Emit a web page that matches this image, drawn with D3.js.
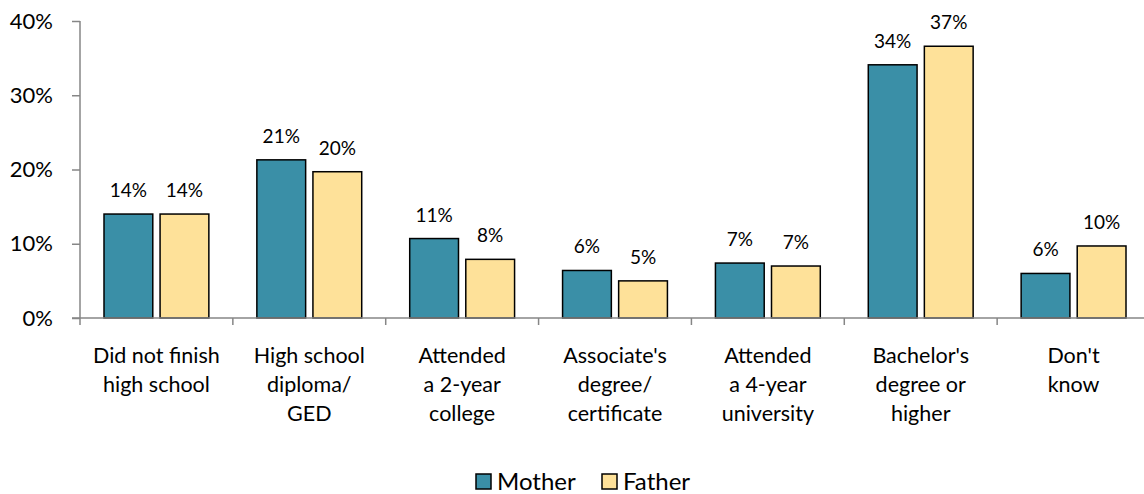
<!DOCTYPE html>
<html>
<head>
<meta charset="utf-8">
<script src="https://cdn.jsdelivr.net/npm/d3@7"></script>
<style>
  body { margin: 0; background: #fff; }
  text { font-family: Lato, "Open Sans", sans-serif; fill: #000; }
</style>
</head>
<body>
<div id="chart"></div>
<script>
// chart data
var categories = [
  ["Did not finish", "high school"],
  ["High school", "diploma/", "GED"],
  ["Attended", "a 2-year", "college"],
  ["Associate's", "degree/", "certificate"],
  ["Attended", "a 4-year", "university"],
  ["Bachelor's", "degree or", "higher"],
  ["Don't", "know"]
];
var seriesNames = ["Mother", "Father"];
var mother = [14.0, 21.3, 10.7, 6.4, 7.4, 34.1, 6.0];
var father = [14.0, 19.7, 7.9, 5.0, 7.0, 36.6, 9.7];
var yTicks = [0, 10, 20, 30, 40];
var colors = ["#3a8fa7", "#fee199"];

var width = 1144, height = 494;
var margin = { top: 21, left: 80, bottom: 176, right: -6 };

var svg = d3.select("#chart").append("svg")
    .attr("width", width)
    .attr("height", height);

var x0 = d3.scaleBand()
    .domain(d3.range(categories.length))
    .range([margin.left, width - margin.right])
    .paddingInner(0)
    .paddingOuter(0);

var x1 = d3.scaleBand()
    .domain(seriesNames)
    .range([24, x0.bandwidth() - 24])
    .paddingInner(0.13);

var y = d3.scaleLinear()
    .domain([0, 40])
    .range([height - margin.bottom, margin.top]);

// y axis
var yAxis = svg.append("g")
    .attr("transform", "translate(" + margin.left + ",0)")
    .call(d3.axisLeft(y).tickValues(yTicks).tickSize(8).tickPadding(19)
      .tickFormat(function(d) { return d + "%"; }));
yAxis.selectAll("path, line").attr("stroke", "#868686").attr("stroke-width", 1.5);
yAxis.select(".domain").attr("d", "M0," + y(40) + "V" + y(0));
yAxis.selectAll("text").style("font-size", "22px").style("font-family", "Lato, sans-serif");

// bars
var groups = svg.selectAll(".cat")
    .data(categories.map(function(c, i) { return { i: i, vals: [mother[i], father[i]] }; }))
    .enter().append("g")
    .attr("transform", function(d) { return "translate(" + x0(d.i) + ",0)"; });

groups.selectAll("rect")
    .data(function(d) { return d.vals.map(function(v, k) { return { v: v, k: k }; }); })
    .enter().append("rect")
    .attr("x", function(d) { return x1(seriesNames[d.k]); })
    .attr("y", function(d) { return y(d.v); })
    .attr("width", x1.bandwidth())
    .attr("height", function(d) { return y(0) - y(d.v); })
    .attr("fill", function(d) { return colors[d.k]; })
    .attr("stroke", "#000")
    .attr("stroke-width", 1.5);

groups.selectAll(".val")
    .data(function(d) { return d.vals.map(function(v, k) { return { v: v, k: k }; }); })
    .enter().append("text")
    .attr("class", "val")
    .attr("x", function(d) { return x1(seriesNames[d.k]) + x1.bandwidth() / 2; })
    .attr("y", function(d) { return y(d.v) - 17; })
    .attr("text-anchor", "middle")
    .style("font-size", "19px")
    .text(function(d) { return Math.round(d.v) + "%"; });

// x axis
var xAxisG = svg.append("g");
xAxisG.append("line")
    .attr("x1", margin.left - 8).attr("x2", width)
    .attr("y1", y(0)).attr("y2", y(0))
    .attr("stroke", "#868686").attr("stroke-width", 1.5);
xAxisG.selectAll(".tk")
    .data(d3.range(categories.length + 1))
    .enter().append("line")
    .attr("x1", function(i) { return margin.left + i * x0.bandwidth(); })
    .attr("x2", function(i) { return margin.left + i * x0.bandwidth(); })
    .attr("y1", y(0)).attr("y2", y(0) + 7)
    .attr("stroke", "#868686").attr("stroke-width", 1.5);

groups.append("text")
    .attr("text-anchor", "middle")
    .style("font-size", "21.5px")
    .selectAll("tspan")
    .data(function(d) { return categories[d.i]; })
    .enter().append("tspan")
    .attr("x", x0.bandwidth() / 2)
    .attr("y", function(d, j) { return y(0) + 45 + j * 29; })
    .text(function(d) { return d; });

// legend
var legend = svg.append("g").attr("transform", "translate(476,474)");
var legX = [0, 126];
seriesNames.forEach(function(name, k) {
  var g = legend.append("g").attr("transform", "translate(" + legX[k] + ",0)");
  g.append("rect").attr("width", 15).attr("height", 15)
    .attr("fill", colors[k]).attr("stroke", "#000").attr("stroke-width", 1.5);
  g.append("text").attr("x", 21).attr("y", 16).style("font-size", "24px").text(name);
});
</script>
</body>
</html>
